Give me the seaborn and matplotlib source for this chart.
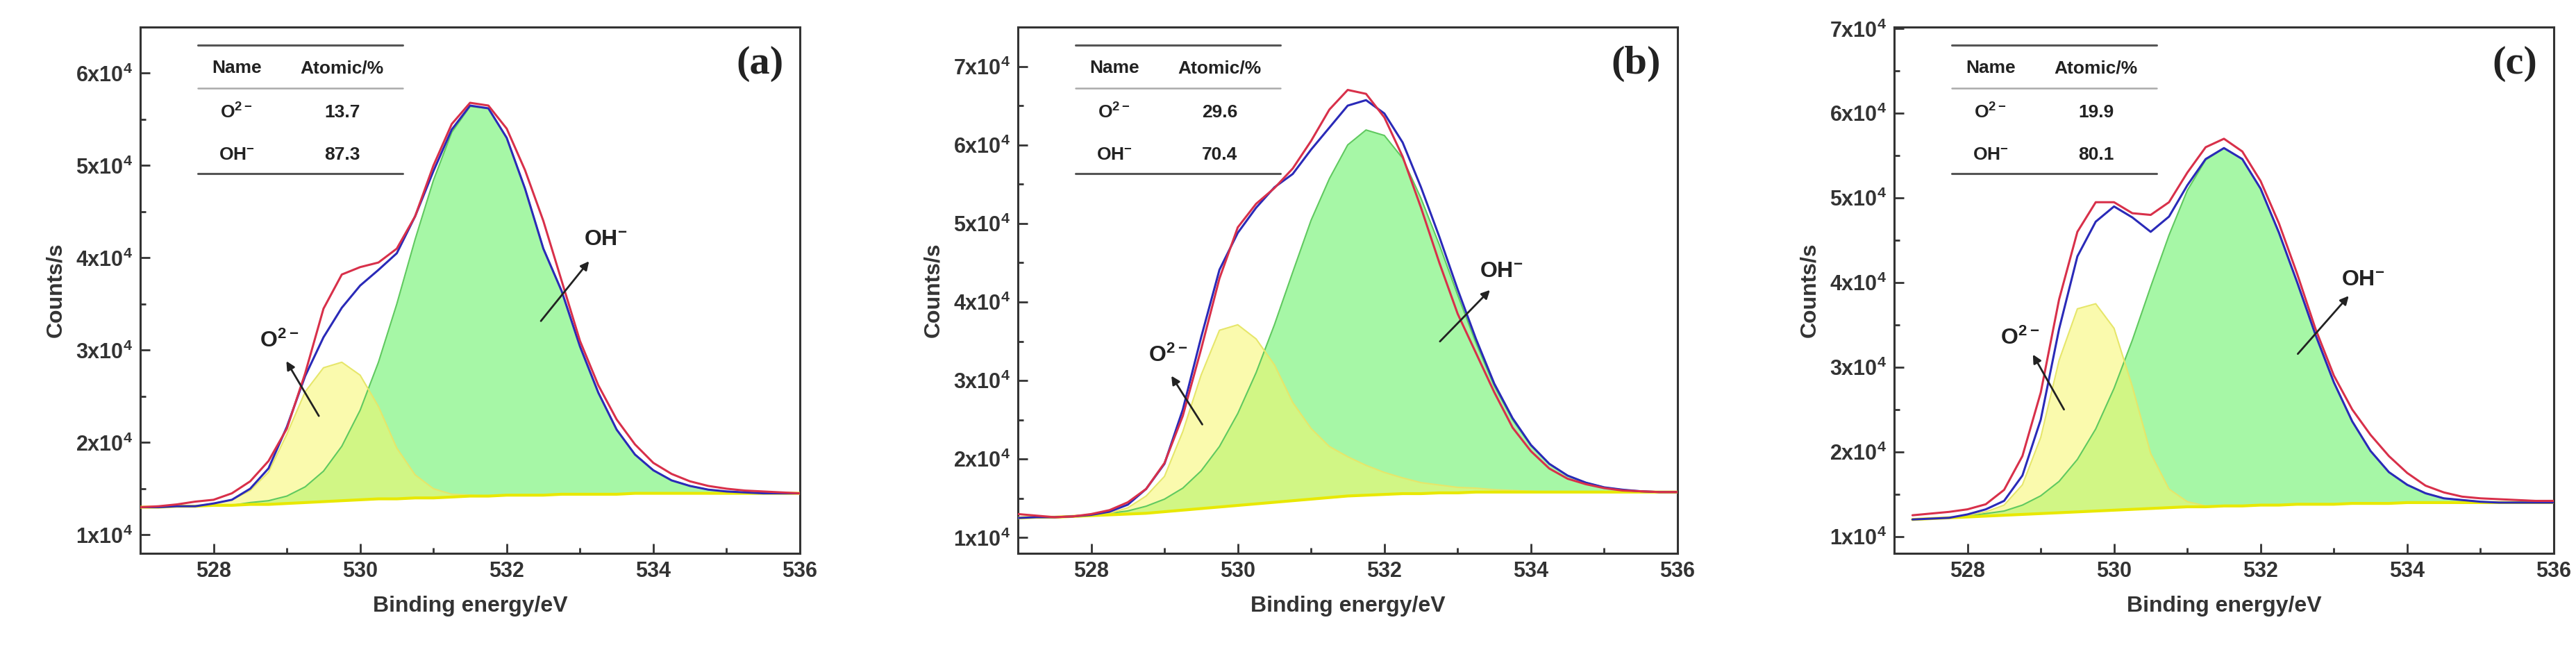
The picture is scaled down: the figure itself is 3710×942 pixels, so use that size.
import numpy as np
import pandas as pd
import matplotlib
matplotlib.use("Agg")
import matplotlib.pyplot as plt
import seaborn as sns
from matplotlib.ticker import FuncFormatter, MultipleLocator

sns.set_style("ticks")
plt.rcParams['font.family'] = ['Liberation Sans', 'DejaVu Sans']
plt.rcParams['mathtext.fontset'] = 'custom'
plt.rcParams['mathtext.bf'] = 'Liberation Sans:bold'
plt.rcParams['mathtext.rm'] = 'Liberation Sans'

# Binding energy grid (eV)
energy = [527.0, 527.25, 527.5, 527.75, 528.0, 528.25, 528.5, 528.75, 529.0, 529.25, 529.5, 529.75,
          530.0, 530.25, 530.5, 530.75, 531.0, 531.25, 531.5, 531.75, 532.0, 532.25, 532.5, 532.75,
          533.0, 533.25, 533.5, 533.75, 534.0, 534.25, 534.5, 534.75, 535.0, 535.25, 535.5, 535.75, 536.0]

# values in units of 1e4 counts/s
# ---- panel (a)
a_meas = [1.30, 1.31, 1.33, 1.36, 1.38, 1.45, 1.58, 1.80, 2.15, 2.75, 3.45, 3.82, 3.90, 3.95, 4.10, 4.45,
          5.00, 5.45, 5.68, 5.65, 5.40, 4.95, 4.40, 3.75, 3.10, 2.62, 2.25, 1.98, 1.78, 1.66, 1.58, 1.53,
          1.50, 1.48, 1.47, 1.46, 1.45]
a_base = [1.30, 1.30, 1.31, 1.31, 1.32, 1.32, 1.33, 1.33, 1.34, 1.35, 1.36, 1.37, 1.38, 1.39, 1.39, 1.40,
          1.40, 1.41, 1.42, 1.42, 1.43, 1.43, 1.43, 1.44, 1.44, 1.44, 1.44, 1.45, 1.45, 1.45, 1.45, 1.45,
          1.45, 1.45, 1.45, 1.45, 1.45]
a_o2 = [0, 0, 0, 0, 0.02, 0.06, 0.15, 0.35, 0.75, 1.20, 1.45, 1.50, 1.35, 1.00, 0.55, 0.25, 0.10, 0.03,
        0.01, 0, 0, 0, 0, 0, 0, 0, 0, 0, 0, 0, 0, 0, 0, 0, 0, 0, 0]
a_oh = [0, 0, 0, 0, 0, 0, 0.02, 0.04, 0.08, 0.17, 0.33, 0.59, 0.97, 1.48, 2.11, 2.80, 3.44, 3.95, 4.22,
        4.20, 3.87, 3.32, 2.67, 2.20, 1.60, 1.10, 0.70, 0.42, 0.25, 0.14, 0.08, 0.04, 0.02, 0.01, 0, 0, 0]
# ---- panel (b)
b_meas = [1.30, 1.28, 1.26, 1.27, 1.30, 1.35, 1.45, 1.62, 1.95, 2.55, 3.40, 4.30, 4.95, 5.25, 5.45, 5.70,
          6.05, 6.45, 6.70, 6.65, 6.35, 5.85, 5.20, 4.50, 3.85, 3.35, 2.85, 2.40, 2.10, 1.88, 1.75, 1.68,
          1.63, 1.60, 1.59, 1.58, 1.58]
b_base = [1.25, 1.26, 1.26, 1.27, 1.28, 1.29, 1.30, 1.31, 1.33, 1.35, 1.37, 1.39, 1.41, 1.43, 1.45, 1.47,
          1.49, 1.51, 1.53, 1.54, 1.55, 1.56, 1.56, 1.57, 1.57, 1.58, 1.58, 1.58, 1.58, 1.58, 1.58, 1.58,
          1.58, 1.58, 1.58, 1.58, 1.58]
b_o2 = [0, 0, 0, 0, 0, 0.02, 0.08, 0.22, 0.45, 1.00, 1.70, 2.25, 2.30, 2.10, 1.75, 1.25, 0.90, 0.65, 0.50,
        0.38, 0.28, 0.20, 0.14, 0.10, 0.07, 0.05, 0.03, 0.02, 0.01, 0, 0, 0, 0, 0, 0, 0, 0]
b_oh = [0, 0, 0, 0, 0.01, 0.02, 0.04, 0.09, 0.16, 0.28, 0.48, 0.77, 1.17, 1.67, 2.26, 2.91, 3.55, 4.06,
        4.47, 4.65, 4.57, 4.27, 3.76, 3.16, 2.52, 1.90, 1.35, 0.92, 0.59, 0.36, 0.21, 0.12, 0.06, 0.03,
        0.01, 0, 0]
# ---- panel (c)
c_meas = [np.nan, 1.25, 1.27, 1.29, 1.32, 1.38, 1.55, 1.95, 2.70, 3.80, 4.60, 4.95, 4.95, 4.82, 4.80, 4.95,
          5.30, 5.60, 5.70, 5.55, 5.20, 4.70, 4.10, 3.45, 2.90, 2.50, 2.20, 1.95, 1.75, 1.60, 1.52, 1.47,
          1.45, 1.44, 1.43, 1.42, 1.42]
c_base = [np.nan, 1.20, 1.21, 1.22, 1.23, 1.24, 1.25, 1.26, 1.27, 1.28, 1.29, 1.30, 1.31, 1.32, 1.33, 1.34,
          1.35, 1.35, 1.36, 1.36, 1.37, 1.37, 1.38, 1.38, 1.38, 1.39, 1.39, 1.39, 1.40, 1.40, 1.40, 1.40,
          1.40, 1.40, 1.40, 1.40, 1.40]
c_o2 = [0, 0, 0, 0, 0.02, 0.05, 0.12, 0.35, 0.90, 1.80, 2.40, 2.45, 2.15, 1.45, 0.65, 0.22, 0.06, 0.01,
        0, 0, 0, 0, 0, 0, 0, 0, 0, 0, 0, 0, 0, 0, 0, 0, 0, 0, 0]
c_oh = [0, 0, 0, 0, 0.01, 0.03, 0.05, 0.11, 0.21, 0.37, 0.62, 0.97, 1.44, 2.00, 2.62, 3.22, 3.74, 4.10,
        4.23, 4.10, 3.74, 3.22, 2.62, 2.00, 1.44, 0.97, 0.62, 0.37, 0.21, 0.11, 0.05, 0.03, 0.01, 0, 0, 0, 0]

panel_labels = ["(a)", "(b)", "(c)"]
o2_pct = ["13.7", "29.6", "19.9"]
oh_pct = ["87.3", "70.4", "80.1"]
ylims = [(0.8, 6.5), (0.8, 7.5), (0.8, 7.02)]
# annotation anchors: (text_xy, arrow_tail, arrow_head)
o2_ann = [((528.9, 3.1), (529.45, 2.27), (528.98, 2.9)),
          ((529.05, 3.32), (529.53, 2.42), (529.08, 3.08)),
          ((528.72, 3.34), (529.33, 2.48), (528.88, 3.17))]
oh_ann = [((533.35, 4.2), (532.45, 3.3), (533.14, 3.98)),
          ((533.6, 4.39), (532.74, 3.48), (533.46, 4.17)),
          ((533.4, 4.03), (532.49, 3.14), (533.22, 3.86))]

panels = [(a_meas, a_base, a_o2, a_oh), (b_meas, b_base, b_o2, b_oh), (c_meas, c_base, c_o2, c_oh)]
lefts = [202 / 3710, 1466 / 3710, 2728 / 3710]

fig = plt.figure(figsize=(37.10, 9.42), dpi=100)
for i, (meas, base, o2, oh) in enumerate(panels):
    ax = fig.add_axes([lefts[i], 1 - 797 / 942, 950 / 3710, 758 / 942])
    x = np.array(energy)
    b = np.array(base) * 1e4
    yo2 = b + np.array(o2) * 1e4
    yoh = b + np.array(oh) * 1e4
    fit = b + (np.array(o2) + np.array(oh)) * 1e4
    df = pd.DataFrame({"E": x, "meas": np.array(meas) * 1e4, "fit": fit, "base": b,
                       "o2": yo2, "oh": yoh})
    ax.fill_between(x, b, yoh, color="#90f590", alpha=0.8, lw=0, zorder=1)
    ax.fill_between(x, b, yo2, color="#f6f66a", alpha=0.55, lw=0, zorder=2)
    sns.lineplot(data=df, x="E", y="oh", ax=ax, color="#5fc95f", lw=1.5, zorder=3)
    sns.lineplot(data=df, x="E", y="o2", ax=ax, color="#e6e66a", lw=1.5, zorder=3)
    sns.lineplot(data=df, x="E", y="base", ax=ax, color="#e8e800", lw=3, zorder=3)
    sns.lineplot(data=df, x="E", y="fit", ax=ax, color="#2a2ab8", lw=2.2, zorder=4)
    sns.lineplot(data=df, x="E", y="meas", ax=ax, color="#d8304a", lw=2.2, zorder=5)

    ax.set_xlim(527, 536)
    ax.set_ylim(ylims[i][0] * 1e4, ylims[i][1] * 1e4)
    ax.xaxis.set_major_locator(MultipleLocator(2))
    ax.xaxis.set_minor_locator(MultipleLocator(1))
    ax.yaxis.set_major_locator(MultipleLocator(1e4))
    ax.yaxis.set_minor_locator(MultipleLocator(5e3))
    ax.yaxis.set_major_formatter(FuncFormatter(lambda v, p: r"$\mathbf{%dx10^{4}}$" % round(v / 1e4)))
    ax.xaxis.set_major_formatter(FuncFormatter(lambda v, p: "%d" % v))
    ax.tick_params(which="both", direction="in", width=2, colors="#333333")
    ax.tick_params(which="major", length=10, labelsize=22, pad=8)
    ax.tick_params(which="minor", length=6)
    for lab in ax.get_xticklabels():
        lab.set_fontweight("bold")
    for s in ax.spines.values():
        s.set_linewidth(2.2)
        s.set_color("#333333")
    ax.set_xlabel("Binding energy/eV", fontsize=23, fontweight="bold", color="#333333", labelpad=14)
    ax.set_ylabel("Counts/s", fontsize=23, fontweight="bold", color="#333333", labelpad=10)

    ax.text(0.975, 0.93, panel_labels[i], transform=ax.transAxes, ha="right", va="center",
            fontsize=42, fontweight="bold", family="Liberation Serif", color="#222222")
    # inset table
    tr = ax.transAxes
    ax.plot([0.087, 0.398], [0.966, 0.966], transform=tr, color="#555555", lw=2.2)
    ax.plot([0.087, 0.398], [0.884, 0.884], transform=tr, color="#aaaaaa", lw=1.8)
    ax.plot([0.087, 0.398], [0.721, 0.721], transform=tr, color="#555555", lw=2.2)
    kw = dict(transform=tr, ha="center", va="center", fontsize=19, fontweight="bold", color="#222222")
    ax.text(0.146, 0.922, "Name", **kw)
    ax.text(0.306, 0.922, "Atomic/%", **kw)
    ax.text(0.146, 0.838, r"$\mathbf{O^{2-}}$", **kw)
    ax.text(0.306, 0.838, o2_pct[i], **kw)
    ax.text(0.146, 0.757, r"$\mathbf{OH^{-}}$", **kw)
    ax.text(0.306, 0.757, oh_pct[i], **kw)

    for (txy, tail, head), lab in [(o2_ann[i], r"$\mathbf{O^{2-}}$"), (oh_ann[i], r"$\mathbf{OH^{-}}$")]:
        ax.annotate("", xy=(head[0], head[1] * 1e4), xytext=(tail[0], tail[1] * 1e4),
                    arrowprops=dict(arrowstyle="-|>", color="#222222", lw=2, mutation_scale=18), zorder=6)
        ax.text(txy[0], txy[1] * 1e4, lab, ha="center", va="center", fontsize=23, color="#222222", zorder=6)

fig.savefig("out.png", dpi=100)
